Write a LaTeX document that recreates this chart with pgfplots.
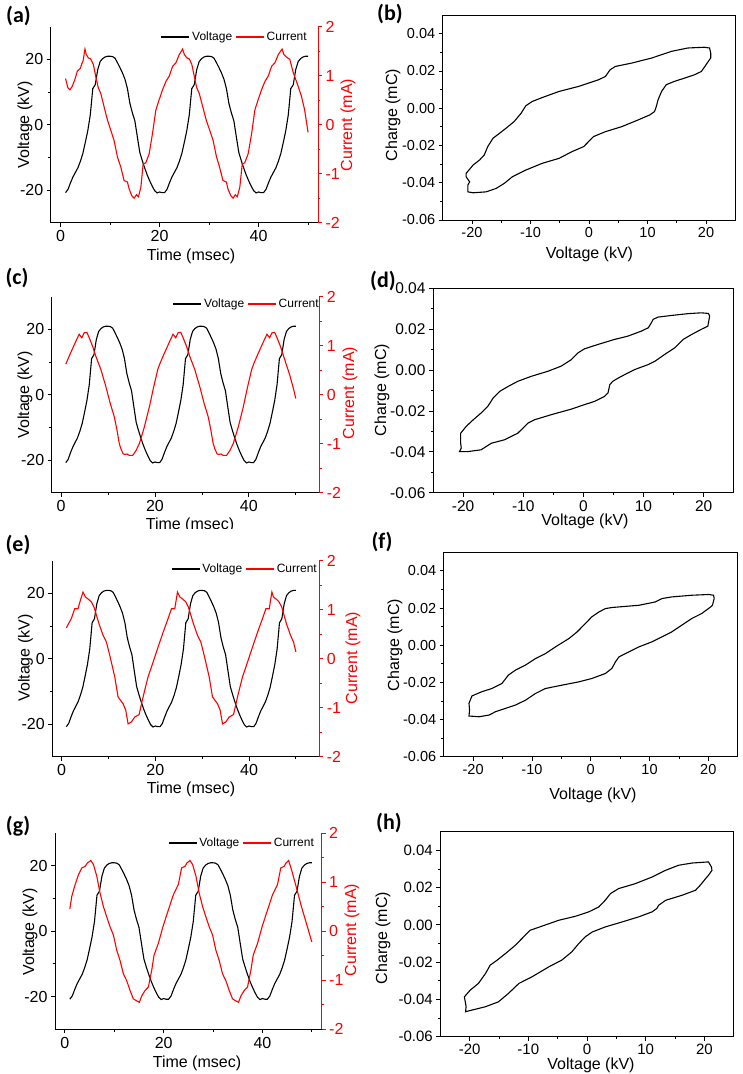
\documentclass[border=0pt]{standalone}
\usepackage{pgfplots}
\pgfplotsset{compat=1.18}
\usepackage{pgfplotstable}
\usepackage{fontspec}
\setmainfont{Liberation Sans}
\newfontfamily\panelfont{Carlito}
\newcommand\fsz[1]{\fontsize{#1bp}{#1bp}\selectfont}

\pgfplotstableread{
t V
1.0 -20.8
1.5 -19.8
2.0 -17.8
2.5 -16.0
3.0 -14.6
3.5 -13.2
4.0 -11.2
4.5 -8.8
5.0 -5.4
5.5 -1.8
6.0 3.0
6.5 11.0
7.0 12.2
7.5 16.8
8.0 19.3
8.5 20.2
9.0 20.7
9.5 20.9
10.0 20.9
10.5 20.8
11.0 20.3
11.5 18.9
12.0 17.4
12.5 15.8
13.0 13.9
13.5 11.0
14.0 6.5
14.5 3.6
15.0 1.2
15.5 -3.7
16.0 -8.5
16.5 -11.0
17.0 -13.3
17.5 -15.4
18.0 -17.2
18.5 -18.8
19.0 -20.2
19.5 -20.9
20.0 -20.6
20.5 -20.8
21.0 -20.8
21.5 -19.8
22.0 -17.8
22.5 -16.0
23.0 -14.6
23.5 -13.2
24.0 -11.2
24.5 -8.8
25.0 -5.4
25.5 -1.8
26.0 3.0
26.5 11.0
27.0 12.2
27.5 16.8
28.0 19.3
28.5 20.2
29.0 20.7
29.5 20.9
30.0 20.9
30.5 20.8
31.0 20.3
31.5 18.9
32.0 17.4
32.5 15.8
33.0 13.9
33.5 11.0
34.0 6.5
34.5 3.6
35.0 1.2
35.5 -3.7
36.0 -8.5
36.5 -11.0
37.0 -13.3
37.5 -15.4
38.0 -17.2
38.5 -18.8
39.0 -20.2
39.5 -20.9
40.0 -20.6
40.5 -20.8
41.0 -20.8
41.5 -19.8
42.0 -17.8
42.5 -16.0
43.0 -14.6
43.5 -13.2
44.0 -11.2
44.5 -8.8
45.0 -5.4
45.5 -1.8
46.0 3.0
46.5 11.0
47.0 12.2
47.5 16.8
48.0 19.3
48.5 20.2
49.0 20.7
49.5 20.9
50.0 20.9
}\tabV

\pgfplotstableread{
t I
1.00 0.94
1.47 0.75
1.88 0.71
2.35 0.78
2.89 0.92
3.37 1.09
3.70 1.12
4.00 1.15
4.24 1.23
4.55 1.30
4.92 1.54
5.19 1.43
5.60 1.36
6.07 1.34
6.61 1.23
7.08 0.99
7.62 0.75
8.10 0.64
8.77 0.37
9.45 0.10
10.12 -0.11
10.80 -0.32
11.48 -0.66
12.15 -0.86
12.83 -1.14
13.50 -1.17
13.84 -1.31
14.38 -1.45
14.86 -1.50
15.33 -1.43
15.73 -1.47
16.21 -1.28
16.68 -0.80
17.22 -0.78
17.90 -0.59
18.57 -0.18
19.25 0.30
19.92 0.51
20.60 0.71
21.28 0.88
21.95 0.99
22.63 1.19
23.30 1.26
23.98 1.43
24.65 1.54
25.00 1.43
25.50 1.36
26.00 1.34
26.50 1.23
27.00 0.99
27.50 0.75
28.00 0.64
28.70 0.37
29.40 0.10
30.10 -0.11
30.80 -0.32
31.50 -0.66
32.10 -0.86
32.80 -1.14
33.50 -1.17
33.80 -1.31
34.40 -1.45
34.85 -1.50
35.30 -1.43
35.70 -1.47
36.20 -1.28
36.70 -0.80
37.20 -0.78
37.90 -0.59
38.60 -0.18
39.25 0.30
39.92 0.51
40.60 0.71
41.28 0.88
41.95 0.99
42.63 1.19
43.30 1.26
43.98 1.43
44.75 1.54
45.10 1.43
45.60 1.38
46.30 1.33
47.00 1.06
48.00 0.78
48.65 0.58
49.30 0.30
50.00 -0.16
}\tabA

\pgfplotstableread{
t I
1.00 0.62
1.80 0.80
2.60 0.97
3.30 1.12
3.85 1.23
4.42 1.16
4.92 1.26
5.49 1.27
5.99 1.16
6.70 0.99
7.41 0.78
8.48 0.51
9.55 0.16
10.47 -0.18
11.33 -0.45
11.90 -0.72
12.40 -1.00
12.80 -1.12
13.25 -1.21
13.60 -1.22
14.03 -1.21
14.53 -1.24
15.25 -1.24
15.96 -1.14
16.67 -1.00
17.74 -0.66
18.81 -0.25
19.73 0.16
20.59 0.51
21.00 0.62
21.80 0.80
22.60 0.97
23.30 1.12
23.85 1.23
24.42 1.16
24.92 1.26
25.49 1.27
25.99 1.16
26.70 0.99
27.41 0.78
28.48 0.51
29.55 0.16
30.47 -0.18
31.33 -0.45
31.90 -0.72
32.40 -1.00
32.80 -1.12
33.25 -1.21
33.60 -1.22
34.03 -1.21
34.53 -1.24
35.25 -1.24
35.96 -1.14
36.67 -1.00
37.74 -0.66
38.81 -0.25
39.73 0.16
40.59 0.51
41.00 0.62
41.80 0.80
42.60 0.97
43.30 1.12
43.85 1.23
44.42 1.16
44.92 1.26
45.49 1.27
45.99 1.16
46.70 0.99
47.41 0.78
48.70 0.40
49.50 0.12
50.00 -0.08
}\tabC

\pgfplotstableread{
t I
1.00 0.63
1.50 0.72
2.07 0.82
2.78 1.02
3.49 1.02
3.99 1.19
4.56 1.36
5.06 1.26
5.63 1.22
6.34 1.16
6.91 1.05
7.45 0.88
7.98 0.71
8.83 0.48
9.55 0.34
10.26 0.07
10.80 -0.15
11.33 -0.37
12.04 -0.78
13.11 -0.92
13.68 -1.05
14.18 -1.33
14.89 -1.29
15.60 -1.19
16.53 -1.14
17.38 -0.78
18.45 -0.37
19.52 -0.07
20.59 0.24
21.66 0.54
22.72 0.82
23.44 1.02
24.15 1.02
24.72 1.36
25.22 1.26
25.79 1.22
26.50 1.16
27.07 1.05
27.61 0.88
28.14 0.71
28.99 0.48
29.71 0.34
30.42 0.07
30.96 -0.15
31.49 -0.37
32.20 -0.78
33.27 -0.92
33.84 -1.05
34.34 -1.33
35.05 -1.29
35.76 -1.19
36.69 -1.14
37.54 -0.78
38.61 -0.37
39.68 -0.07
40.75 0.24
41.82 0.54
42.88 0.82
43.60 1.02
44.31 1.02
44.88 1.36
45.20 1.26
45.75 1.22
46.40 1.16
47.00 1.05
47.50 0.88
48.00 0.71
48.85 0.48
49.50 0.34
50.00 0.14
}\tabE

\pgfplotstableread{
t I
1.00 0.45
1.40 0.71
2.08 0.95
2.75 1.15
3.43 1.29
4.10 1.32
4.57 1.39
5.25 1.44
5.78 1.36
6.46 1.12
7.13 0.77
7.81 0.50
8.48 0.29
9.15 0.09
9.83 -0.08
10.50 -0.39
11.18 -0.60
11.85 -0.87
12.52 -1.01
13.20 -1.21
13.87 -1.38
14.54 -1.42
15.08 -1.45
15.56 -1.32
16.23 -1.21
16.90 -1.14
17.58 -0.80
18.05 -0.49
18.92 -0.25
19.94 0.12
20.95 0.43
21.96 0.74
22.97 0.95
23.64 1.29
24.32 1.32
24.70 1.39
25.33 1.44
25.86 1.36
26.54 1.12
27.21 0.77
27.89 0.50
28.56 0.29
29.23 0.09
29.91 -0.08
30.58 -0.39
31.26 -0.60
31.93 -0.87
32.60 -1.01
33.28 -1.21
33.95 -1.38
34.62 -1.42
35.16 -1.45
35.64 -1.32
36.31 -1.21
36.98 -1.14
37.66 -0.80
38.13 -0.49
39.00 -0.25
40.02 0.12
41.03 0.43
42.04 0.74
43.05 0.95
43.72 1.29
44.40 1.32
44.78 1.39
45.30 1.44
45.90 1.25
46.90 0.88
47.90 0.50
48.90 0.16
50.00 -0.22
}\tabG

\pgfplotstableread{
V Q
-21.0 -0.0350
-19.8 -0.0305
-18.7 -0.0278
-17.9 -0.0251
-17.3 -0.0206
-16.4 -0.0161
-15.3 -0.0135
-14.2 -0.0108
-12.8 -0.0072
-11.6 -0.0027
-10.8 0.0013
-9.7 0.0036
-8.0 0.0057
-5.1 0.0090
-1.75 0.0117
1.6 0.0152
2.8 0.0170
3.6 0.0206
4.5 0.0224
7.3 0.0242
10.7 0.0269
14.1 0.0305
16.9 0.0323
19.7 0.0327
20.6 0.0323
20.8 0.0296
20.8 0.0270
20.0 0.0233
19.2 0.0197
18.0 0.0179
16.3 0.0161
14.6 0.0144
13.2 0.0126
12.4 0.0090
11.8 0.0045
11.5 0.0009
11.2 -0.0018
10.4 -0.0036
8.4 -0.0063
5.6 -0.0099
2.8 -0.0126
0.8 -0.0152
-0.06 -0.0179
-0.9 -0.0206
-2.9 -0.0233
-5.1 -0.0269
-8.0 -0.0296
-10.8 -0.0332
-13.1 -0.0368
-14.5 -0.0404
-15.9 -0.0431
-17.6 -0.0449
-19.8 -0.0454
-20.7 -0.0449
-20.7 -0.0413
-20.4 -0.0395
-21.0 -0.0368
-21.0 -0.0350
}\loopB

\pgfplotstableread{
V Q
-20.4 -0.0309
-19.5 -0.0276
-18.3 -0.0243
-17.0 -0.0210
-15.9 -0.0178
-15.0 -0.0137
-13.9 -0.0104
-12.5 -0.0080
-10.9 -0.0055
-8.6 -0.0030
-5.9 -0.0006
-3.7 0.0019
-2.0 0.0051
-0.9 0.0084
0.2 0.0104
2.4 0.0125
5.2 0.0150
7.4 0.0166
9.6 0.0190
10.8 0.0207
11.3 0.0231
11.6 0.0248
12.4 0.0259
14.6 0.0267
17.4 0.0276
19.6 0.0280
20.8 0.0277
21.0 0.0264
20.8 0.0231
20.7 0.0215
19.6 0.0199
18.0 0.0174
16.6 0.0150
15.2 0.0109
13.5 0.0076
11.9 0.0043
10.8 0.0027
8.5 0.0002
6.9 -0.0022
5.8 -0.0039
4.9 -0.0055
4.4 -0.0071
4.1 -0.0112
3.5 -0.0129
1.9 -0.0153
0.2 -0.0169
-2.0 -0.0191
-5.3 -0.0218
-8.1 -0.0243
-9.2 -0.0259
-10.9 -0.0309
-13.1 -0.0341
-15.3 -0.0358
-17.0 -0.0390
-19.2 -0.0399
-20.6 -0.0399
-20.3 -0.0382
-20.4 -0.0358
-20.4 -0.0309
}\loopD

\pgfplotstableread{
V Q
-20.7 -0.0313
-20.2 -0.0273
-18.5 -0.0250
-16.8 -0.0233
-15.1 -0.0206
-14.0 -0.0161
-12.8 -0.0134
-11.1 -0.0107
-9.4 -0.0072
-7.7 -0.0045
-6.0 -0.0009
-3.7 0.0036
-2.3 0.0072
-0.9 0.0117
0.2 0.0153
1.4 0.0179
2.5 0.0197
3.6 0.0203
8.2 0.0215
11.0 0.0233
12.1 0.0251
13.8 0.0260
17.2 0.0269
20.1 0.0273
20.9 0.0269
21.0 0.0251
20.7 0.0215
20.4 0.0206
18.9 0.0171
17.2 0.0144
15.5 0.0108
13.8 0.0072
12.1 0.0045
10.4 0.0018
8.2 -0.0009
5.9 -0.0045
4.8 -0.0063
4.2 -0.0090
3.6 -0.0125
2.5 -0.0152
0.2 -0.0179
-2.0 -0.0197
-4.9 -0.0215
-7.7 -0.0233
-9.4 -0.0260
-11.1 -0.0296
-12.8 -0.0322
-14.5 -0.0340
-16.2 -0.0358
-17.3 -0.0376
-19.0 -0.0385
-20.7 -0.0381
-20.6 -0.0349
-20.7 -0.0313
}\loopF

\pgfplotstableread{
V Q
-20.9 -0.0386
-19.9 -0.0350
-18.5 -0.0314
-17.3 -0.0261
-16.5 -0.0216
-15.3 -0.0189
-13.9 -0.0154
-12.2 -0.0109
-10.8 -0.0064
-9.7 -0.0029
-7.7 -0.0007
-4.8 0.0025
-2.0 0.0046
0.3 0.0070
2.0 0.0096
3.1 0.0132
4.0 0.0168
5.4 0.0195
8.2 0.0221
11.1 0.0257
13.4 0.0293
15.6 0.0320
17.9 0.0332
20.7 0.0338
21.2 0.0311
21.3 0.0293
20.7 0.0266
20.2 0.0248
19.3 0.0213
18.5 0.0186
16.2 0.0159
13.4 0.0132
12.2 0.0105
11.9 0.0088
11.1 0.0070
8.8 0.0043
6.0 0.0016
3.1 -0.0011
0.9 -0.0038
-0.3 -0.0064
-1.4 -0.0100
-2.6 -0.0145
-4.3 -0.0189
-6.5 -0.0225
-9.4 -0.0279
-11.6 -0.0314
-13.4 -0.0368
-15.1 -0.0413
-17.3 -0.0439
-19.6 -0.0457
-20.7 -0.0466
-20.6 -0.0439
-20.7 -0.0421
-20.9 -0.0386
}\loopH

\pgfplotsset{
  legend image code/.code={\draw[#1, line width=1.5bp] (0bp,0bp) -- (28bp,0bp);},
  base/.style={scale only axis, anchor=south west, tick align=outside,
    major tick length=4bp, minor tick length=2.5bp,
    tick style={line width=0.8bp, black},
    axis line style={line width=0.9bp},
    scaled ticks=false},
  volt/.style={base, xmin=-2, ymin=-30, ymax=30,
    axis x line*=bottom, axis y line*=left,
    ticklabel style={font=\fsz{16}},
    xtick={0,20,40}, xticklabels={0,20,40}, minor xtick={10,30,50},
    ytick={-20,0,20}, yticklabels={-20,0,20}, minor ytick={-10,10}},
  curr/.style={base, xmin=-2, ymin=-2, ymax=2, hide x axis, axis y line*=right,
    ticklabel style={font=\fsz{16}},
    ytick={-2,-1,0,1,2}, yticklabels={-2,-1,0,1,2}, minor ytick={-1.5,-0.5,0.5,1.5},
    axis line style={red, line width=0.9bp},
    tick style={red, line width=0.8bp}, yticklabel style={red},
    legend cell align=left,
    legend style={draw=none, fill=none, legend columns=2, font=\fsz{12},
      anchor=east, inner sep=0pt,
      /tikz/every even column/.append style={column sep=1bp}}},
  qv/.style={base, xmin=-25, xmax=25, ymin=-0.06,
    xtick pos=left, ytick pos=left,
    xtick={-20,-10,0,10,20}, xticklabels={-20,-10,0,10,20},
    minor xtick={-15,-5,5,15},
    ytick={-0.06,-0.04,-0.02,0,0.02,0.04},
    yticklabels={-0.06,-0.04,-0.02,0.00,0.02,0.04},
    minor ytick={-0.05,-0.03,-0.01,0.01,0.03}},
  crv/.style={line width=1.1bp}
}

\begin{document}
\begin{tikzpicture}
\useasboundingbox (0,0) rectangle (743bp,-1074bp);

% ---------- (a)
\begin{axis}[volt, at={(50.7bp,-222.7bp)}, width=267.3bp, height=196.2bp, xmax=52]
\addplot[black, crv] table[x=t,y=V]{\tabV};
\end{axis}
\begin{axis}[curr, at={(50.7bp,-222.7bp)}, width=267.3bp, height=196.2bp, xmax=52,
  legend style={at={(0.966,0.946)}}]
\addlegendimage{black}\addlegendentry{Voltage}
\addlegendimage{red}\addlegendentry{Current}
\addplot[red, crv, forget plot] table[x=t,y=I]{\tabA};
\end{axis}

% ---------- (c)
\begin{axis}[volt, at={(51.7bp,-492.7bp)}, width=267.6bp, height=196.2bp, xmax=55]
\addplot[black, crv] table[x=t,y=V]{\tabV};
\end{axis}
\begin{axis}[curr, at={(51.7bp,-492.7bp)}, width=267.6bp, height=196.2bp, xmax=55,
  legend style={at={(1.006,0.963)}}]
\addlegendimage{black}\addlegendentry{Voltage}
\addlegendimage{red}\addlegendentry{Current}
\addplot[red, crv, forget plot] table[x=t,y=I]{\tabC};
\end{axis}

% ---------- (e)
\begin{axis}[volt, at={(52.3bp,-756.7bp)}, width=267bp, height=196bp, xmax=55]
\addplot[black, crv] table[x=t,y=V]{\tabV};
\end{axis}
\begin{axis}[curr, at={(52.3bp,-756.7bp)}, width=267bp, height=196bp, xmax=55,
  legend style={at={(0.999,0.958)}}]
\addlegendimage{black}\addlegendentry{Voltage}
\addlegendimage{red}\addlegendentry{Current}
\addplot[red, crv, forget plot] table[x=t,y=I]{\tabE};
\end{axis}

% ---------- (g)
\begin{axis}[volt, at={(55bp,-1029.3bp)}, width=266.7bp, height=196.3bp, xmax=52]
\addplot[black, crv] table[x=t,y=V]{\tabV};
\end{axis}
\begin{axis}[curr, at={(55bp,-1029.3bp)}, width=266.7bp, height=196.3bp, xmax=52,
  legend style={at={(0.979,0.948)}}]
\addlegendimage{black}\addlegendentry{Voltage}
\addlegendimage{red}\addlegendentry{Current}
\addplot[red, crv, forget plot] table[x=t,y=I]{\tabG};
\end{axis}

% ---------- (b)
\begin{axis}[qv, at={(442.7bp,-220bp)}, width=292.6bp, height=205bp, ymax=0.05,
  ticklabel style={font=\fsz{14.5}}]
\addplot[black, crv] table[x=V,y=Q]{\loopB};
\end{axis}
% ---------- (d)
\begin{axis}[qv, at={(433bp,-492.7bp)}, width=300.7bp, height=204.4bp, ymax=0.04,
  ticklabel style={font=\fsz{15.5}}]
\addplot[black, crv] table[x=V,y=Q]{\loopD};
\end{axis}
% ---------- (f)
\begin{axis}[qv, at={(443.7bp,-756.7bp)}, width=294bp, height=204.4bp, ymax=0.05,
  ticklabel style={font=\fsz{14.5}}]
\addplot[black, crv] table[x=V,y=Q]{\loopF};
\end{axis}
% ---------- (h)
\begin{axis}[qv, at={(440.3bp,-1036.7bp)}, width=293.4bp, height=205bp, ymax=0.05,
  ticklabel style={font=\fsz{15}}]
\addplot[black, crv] table[x=V,y=Q]{\loopH};
\end{axis}

% axis titles, left column
\begin{scope}[every node/.style={font=\fsz{16}, inner sep=0pt}]
\node[rotate=90] at (25bp,-125bp) {Voltage (kV)};
\node at (191bp,-256bp) {Time (msec)};
\node[rotate=90, red] at (348bp,-125bp) {Current (mA)};

\node[rotate=90] at (25bp,-395bp) {Voltage (kV)};
\node at (190bp,-525bp) {Time (msec)};
\node[rotate=90, red] at (350bp,-393bp) {Current (mA)};

\node[rotate=90] at (25.5bp,-658bp) {Voltage (kV)};
\node at (191bp,-789bp) {Time (msec)};
\node[rotate=90, red] at (353bp,-658bp) {Current (mA)};

\node[rotate=90] at (30bp,-932bp) {Voltage (kV)};
\node at (197bp,-1063bp) {Time (msec)};
\node[rotate=90, red] at (352bp,-930bp) {Current (mA)};

% right column
\node[rotate=90] at (393bp,-115bp) {Charge (mC)};
\node at (589.5bp,-254bp) {Voltage (kV)};
\node[rotate=90] at (382bp,-390bp) {Charge (mC)};
\node at (585bp,-521bp) {Voltage (kV)};
\node[rotate=90] at (395bp,-645bp) {Charge (mC)};
\node at (593bp,-795bp) {Voltage (kV)};
\node[rotate=90] at (383bp,-938bp) {Charge (mC)};
\node at (591bp,-1065bp) {Voltage (kV)};
\end{scope}

% cropped edge of panel (c) caption
\fill[white] (130bp,-528.5bp) rectangle (250bp,-536bp);

% panel letters
\begin{scope}[every node/.style={font=\panelfont\bfseries\fsz{22}, inner sep=0pt}]
\node at (18.5bp,-16bp) {(a)};
\node at (390bp,-14bp) {(b)};
\node at (17bp,-278bp) {(c)};
\node at (383bp,-281bp) {(d)};
\node at (18bp,-545bp) {(e)};
\node at (382bp,-542bp) {(f)};
\node at (18bp,-826bp) {(g)};
\node at (389bp,-823bp) {(h)};
\end{scope}
\end{tikzpicture}
\end{document}
